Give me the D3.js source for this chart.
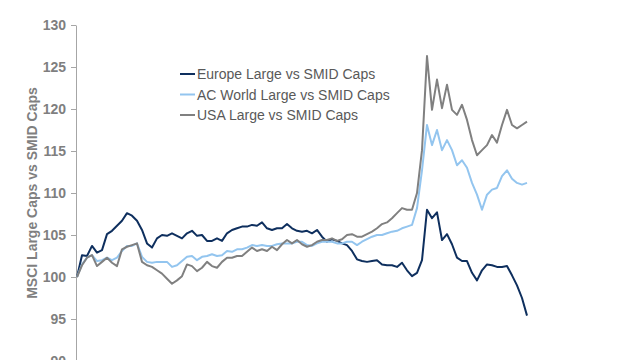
<!DOCTYPE html>
<html><head><meta charset="utf-8">
<script src="https://cdn.jsdelivr.net/npm/d3@7"></script>
<style>body{margin:0;background:#fff}svg{display:block}</style>
</head><body><svg id="c" width="640" height="360"></svg>
<script>
const seriesNames = ["Europe Large vs SMID Caps","AC World Large vs SMID Caps","USA Large vs SMID Caps"];
const yTicks = [90,95,100,105,110,115,120,125,130];
const europe = [100.0,102.6,102.5,103.7,102.9,103.2,105.1,105.5,106.1,106.7,107.6,107.3,106.7,105.6,104.0,103.5,104.6,105.0,104.9,105.2,104.9,104.6,105.2,105.5,104.9,105.0,104.3,104.3,104.6,104.3,105.2,105.6,105.8,106.0,106.0,106.2,106.1,106.5,105.8,105.6,105.8,105.8,106.3,105.8,105.5,105.4,105.5,105.2,105.6,104.8,104.2,104.5,104.3,104.0,103.8,103.1,102.1,101.9,101.8,101.9,102.0,101.5,101.4,101.4,101.2,101.7,100.8,100.1,100.5,102.0,108.0,107.0,107.7,104.4,105.1,103.9,102.3,101.9,101.9,100.5,99.6,100.8,101.5,101.4,101.2,101.2,101.3,100.2,99.0,97.5,95.4];
const acWorld = [100.0,101.5,102.3,102.6,101.9,102.0,102.3,102.0,102.3,103.1,103.7,103.7,104.0,102.4,101.8,101.7,101.8,101.8,101.8,101.2,101.4,101.9,102.4,102.5,102.0,102.4,102.5,102.7,102.5,102.6,103.1,103.0,103.3,103.3,103.5,103.8,103.7,103.8,103.7,103.7,103.9,104.0,104.0,104.0,104.2,104.2,103.8,103.7,104.0,104.2,104.2,104.2,104.0,104.0,104.2,104.2,103.8,104.2,104.5,104.8,105.0,105.0,105.2,105.4,105.5,105.8,106.0,106.2,108.2,112.7,118.1,115.7,117.5,115.1,116.3,115.1,113.3,113.9,113.0,111.2,109.8,108.0,109.8,110.4,110.6,112.0,112.7,111.7,111.2,111.0,111.2];
const usa = [100.0,101.4,102.3,102.6,101.3,101.8,102.3,101.7,101.3,103.3,103.6,103.8,104.0,101.8,101.4,101.2,100.8,100.4,99.8,99.2,99.6,100.1,101.5,101.3,100.7,101.1,101.8,101.3,101.1,101.8,102.3,102.3,102.5,102.5,103.0,103.5,103.1,103.3,103.1,103.6,103.2,103.9,104.4,104.0,104.4,103.9,103.6,103.8,104.2,104.4,104.4,104.6,104.3,104.5,105.0,105.1,104.8,104.8,105.1,105.4,105.8,106.3,106.5,107.0,107.6,108.2,108.0,108.0,110.0,115.1,126.3,119.9,123.5,120.1,122.9,119.9,119.3,120.5,118.7,116.3,114.5,115.1,115.7,116.9,116.0,118.1,119.9,118.1,117.7,118.1,118.5];
const colors = ["#0e2f5e","#93c5ef","#808080"];

const svg = d3.select("#c");
const x = d3.scaleLinear().domain([0, europe.length-1]).range([77, 527]);
const y = d3.scaleLinear().domain([90,130]).range([361,25]);

const axis = svg.append("g").attr("transform","translate(76,0)")
  .call(d3.axisLeft(y).tickValues(yTicks).tickSize(5).tickSizeOuter(0).tickPadding(5));
axis.select(".domain").attr("stroke","#a6a6a6");
axis.selectAll(".tick line").attr("stroke","#a6a6a6");
axis.selectAll(".tick text").attr("fill","#7f7f7f").attr("font-family","Liberation Sans, Arial, sans-serif")
  .attr("font-size",14).attr("font-weight","bold");

svg.append("text").attr("transform","translate(37,193) rotate(-90)")
  .attr("text-anchor","middle").attr("fill","#7f7f7f")
  .attr("font-family","Liberation Sans, Arial, sans-serif").attr("font-size",14).attr("font-weight","bold")
  .text("MSCI Large Caps vs SMID Caps");

const line = d3.line().x((d,i)=>x(i)).y(d=>y(d));
[europe, acWorld, usa].forEach((s,k)=>{
  svg.append("path").datum(s).attr("d",line).attr("fill","none")
    .attr("stroke",colors[k]).attr("stroke-width",2).attr("stroke-linejoin","round");
});

const lg = svg.append("g");
seriesNames.forEach((n,k)=>{
  const yy = 74 + k*20.5;
  lg.append("line").attr("x1",180).attr("x2",195).attr("y1",yy).attr("y2",yy)
    .attr("stroke",colors[k]).attr("stroke-width",2);
  lg.append("text").attr("x",197).attr("y",yy+5).attr("fill","#595959")
    .attr("font-family","Liberation Sans, Arial, sans-serif").attr("font-size",14)
    .text(n);
});
</script></body></html>
